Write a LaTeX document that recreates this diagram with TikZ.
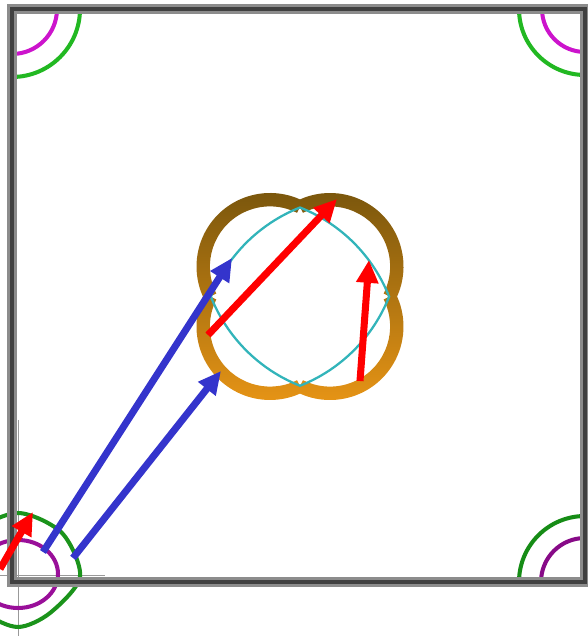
\documentclass[tikz,border=0pt]{standalone}
\usepackage{xcolor}
\usepackage{tikz}
\usetikzlibrary{arrows.meta}
\definecolor{vecred}{HTML}{FF0000}
\definecolor{vecblue}{HTML}{3434CC}
\definecolor{ringtop}{RGB}{118,84,12}
\definecolor{ringmid}{RGB}{172,112,16}
\definecolor{ringbot}{RGB}{234,150,22}
\definecolor{fscyan}{RGB}{50,180,186}
\definecolor{pmag}{RGB}{204,20,204}
\definecolor{pgreen}{RGB}{34,184,34}
\definecolor{dmag}{RGB}{135,10,135}
\definecolor{dgreen}{RGB}{22,140,22}

\begin{document}
\begin{tikzpicture}[x=0.02cm, y=0.02cm, >={Triangle[length=13pt, width=12pt]},
    redvec/.style={->, line width=4pt, vecred},
    bluevec/.style={->, line width=4pt, vecblue},
    pocket/.style={line width=2.3pt},
    fsline/.style={line width=1.3pt, fscyan, line join=miter},
    axisline/.style={line width=0.5pt, black!40},
  ]
    \useasboundingbox (0,0) rectangle (588,636);

    % corner pockets
    \draw[pocket, pmag]   (57,627)  arc[start angle=0,   end angle=-90, radius=45];
    \draw[pocket, pgreen] (80,627)  arc[start angle=0,   end angle=-90, radius=68];
    \draw[pocket, pmag]   (542,627) arc[start angle=180, end angle=270, radius=43];
    \draw[pocket, pgreen] (519,627) arc[start angle=180, end angle=270, radius=66];
    \draw[pocket, dmag]   (541,54)  arc[start angle=180, end angle=90,  radius=44];
    \draw[pocket, dgreen] (519,54)  arc[start angle=180, end angle=90,  radius=66];

    % pocket at the lower left
    \draw[axisline] (0,61) -- (105,61);
    \draw[axisline] (18,216) -- (18,0);
    \draw[pocket, pgreen!80!black] plot[smooth cycle] coordinates
      {(80,59) (62,103) (18,123) (-26,103) (-44,59) (-14,23) (18,9) (50,23)};
    \draw[pocket, pmag!75!black] (18,62) ellipse[x radius=40, y radius=34];

    % frame
    \draw[line width=5.2pt, black!45] (12,627) rectangle (585,54);
    \draw[line width=2.4pt, black!75] (12,627) rectangle (585,54);

    % central pocket
    \begin{scope}[shift={(300,339.5)}]
      \shade[top color=ringtop, middle color=ringmid, bottom color=ringbot]
        ([shift={(30,30)}]-26.7:73.5) arc[start angle=-26.7, end angle=116.7, radius=73.5]
        -- ([shift={(30,30)}]116.7:60.1) arc[start angle=116.7, end angle=-26.7, radius=60.1] -- cycle
        ([shift={(-30,30)}]63.3:73.5) arc[start angle=63.3, end angle=206.7, radius=73.5]
        -- ([shift={(-30,30)}]206.7:60.1) arc[start angle=206.7, end angle=63.3, radius=60.1] -- cycle
        ([shift={(-30,-30)}]153.3:73.5) arc[start angle=153.3, end angle=296.7, radius=73.5]
        -- ([shift={(-30,-30)}]296.7:60.1) arc[start angle=296.7, end angle=153.3, radius=60.1] -- cycle
        ([shift={(30,-30)}]243.3:73.5) arc[start angle=243.3, end angle=386.7, radius=73.5]
        -- ([shift={(30,-30)}]386.7:60.1) arc[start angle=386.7, end angle=243.3, radius=60.1] -- cycle;
      \draw[fsline] (0,89)
        arc[start angle=68.4,  end angle=21.6,  radius=158.7]
        arc[start angle=-21.6, end angle=-68.4, radius=158.7]
        arc[start angle=248.4, end angle=201.6, radius=158.7]
        arc[start angle=158.4, end angle=111.6, radius=158.7] -- cycle;
    \end{scope}

    % vectors
    \coordinate (b1s) at (43,84);
    \coordinate (b1e) at (232,378);
    \coordinate (b2s) at (73,78);
    \coordinate (b2e) at (221,265);
    \coordinate (r1s) at (208,301);
    \coordinate (r1e) at (337,437);
    \coordinate (r2s) at (360,255);
    \coordinate (r2e) at (369,376);
    \coordinate (r3s) at (0,67);
    \coordinate (r3e) at (33,124);
    \draw[bluevec] (b1s) -- (b1e);
    \draw[bluevec] (b2s) -- (b2e);
    \draw[redvec] (r1s) -- (r1e);
    \draw[redvec] (r2s) -- (r2e);
    \draw[redvec] (r3s) -- (r3e);
  \end{tikzpicture}
\end{document}
